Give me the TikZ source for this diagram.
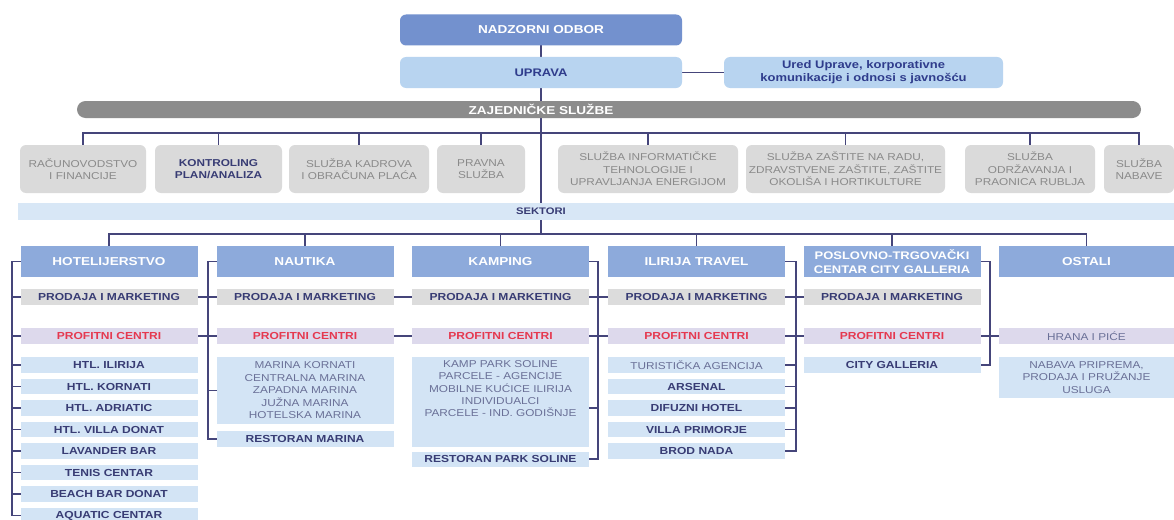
\documentclass[tikz,border=0pt]{standalone}
\usepackage{fontspec}
\newfontfamily\wf[FakeStretch=1.18]{Liberation Sans}
\usetikzlibrary{backgrounds}
\definecolor{nadC}{HTML}{7391CE}
\definecolor{secC}{HTML}{8DAADB}
\definecolor{uprC}{HTML}{B8D4F0}
\definecolor{uprT}{HTML}{2F3C8C}
\definecolor{barC}{HTML}{8C8C8C}
\definecolor{svcC}{HTML}{DADADA}
\definecolor{svcT}{HTML}{8A8A8A}
\definecolor{sekC}{HTML}{D8E7F6}
\definecolor{pmC}{HTML}{DCDCDC}
\definecolor{pcC}{HTML}{DDD9EC}
\definecolor{redT}{HTML}{E53950}
\definecolor{itemC}{HTML}{D3E4F5}
\definecolor{navy}{HTML}{383C74}
\definecolor{softT}{HTML}{6A7097}
\definecolor{lineC}{HTML}{45457A}
\begin{document}
\begin{tikzpicture}[x=1pt,y=-1pt,
  conn/.style={draw=lineC, line width=1.9pt},
  base/.style={inner sep=0pt, outer sep=0pt, align=center},
  nadbox/.style={base, fill=nadC, rounded corners=6pt, minimum width=282pt, minimum height=31pt, text=white, font=\wf\bfseries\fontsize{11.5}{13}\selectfont},
  uprbox/.style={base, fill=uprC, rounded corners=6pt, minimum width=282pt, minimum height=31pt, text=uprT, font=\wf\bfseries\fontsize{11}{13}\selectfont},
  uredbox/.style={uprbox, minimum width=279pt, font=\wf\bfseries\fontsize{11}{12.8}\selectfont},
  zajbar/.style={base, fill=barC, rounded corners=8.5pt, minimum height=17pt},
  zajtext/.style={base, text=white, font=\wf\bfseries\fontsize{11.5}{13}\selectfont},
  sekbar/.style={base, fill=sekC, minimum height=17pt},
  sektext/.style={base, text=navy, font=\wf\bfseries\fontsize{9.5}{11}\selectfont},
  svc/.style={base, fill=svcC, rounded corners=6pt, minimum height=48pt, text=svcT, font=\wf\fontsize{10}{12.5}\selectfont},
  svcbold/.style={svc, text=navy, font=\wf\bfseries\fontsize{10}{12.5}\selectfont},
  sechead/.style={base, fill=secC, minimum width=177pt, minimum height=31pt, text=white, font=\wf\bfseries\fontsize{11.5}{13.5}\selectfont},
  pmrow/.style={base, fill=pmC, minimum width=177pt, minimum height=16pt, text=navy, font=\wf\bfseries\fontsize{10.2}{12}\selectfont},
  pcrow/.style={pmrow, fill=pcC, text=redT},
  itemrow/.style={pmrow, fill=itemC, minimum height=15.5pt},
  softrow/.style={itemrow, text=softT, font=\wf\fontsize{10}{12.5}\selectfont},
  softtext/.style={base, text=softT, font=\wf\fontsize{10}{12.3}\selectfont}
]
\useasboundingbox (0,0) rectangle (1174,519);

% top
\node[nadbox] (nad) at (541,30) {NADZORNI ODBOR};
\node[uprbox] (upr) at (541,72.5) {UPRAVA};
\node[uredbox] (ured) at (863.5,72.5) {Ured Uprave, korporativne\\komunikacije i odnosi s javnošću};
\node[zajbar, minimum width=1064pt] (zaj) at (609,109.5) {};
\node[zajtext] (zajt) at (541,109.5) {ZAJEDNIČKE SLUŽBE};

% services
\node[svc, minimum width=126pt] (s1) at (83,169) {RAČUNOVODSTVO\\I FINANCIJE};
\node[svcbold, minimum width=127pt] (s2) at (218.5,169) {KONTROLING\\PLAN/ANALIZA};
\node[svc, minimum width=140pt] (s3) at (359,169) {SLUŽBA KADROVA\\I OBRAČUNA PLAĆA};
\node[svc, minimum width=88pt] (s4) at (481,169) {PRAVNA\\SLUŽBA};
\node[svc, minimum width=180pt] (s5) at (648,169) {SLUŽBA INFORMATIČKE\\TEHNOLOGIJE I\\UPRAVLJANJA ENERGIJOM};
\node[svc, minimum width=199pt] (s6) at (845.5,169) {SLUŽBA ZAŠTITE NA RADU,\\ZDRAVSTVENE ZAŠTITE, ZAŠTITE\\OKOLIŠA I HORTIKULTURE};
\node[svc, minimum width=130pt] (s7) at (1030,169) {SLUŽBA\\ODRŽAVANJA I\\PRAONICA RUBLJA};
\node[svc, minimum width=70pt] (s8) at (1139,169) {SLUŽBA\\NABAVE};

% sektori
\node[sekbar, minimum width=1156pt] (sek) at (596,211.5) {};
\node[sektext] (sekt) at (541,211.5) {SEKTORI};

% sector headers
\node[sechead] (hot) at (109,261.5) {HOTELIJERSTVO};
\node[sechead] (nau) at (305,261.5) {NAUTIKA};
\node[sechead] (kam) at (500.5,261.5) {KAMPING};
\node[sechead] (ili) at (696.5,261.5) {ILIRIJA TRAVEL};
\node[sechead, font=\wf\bfseries\fontsize{11}{13.5}\selectfont] (pos) at (892,261.5) {POSLOVNO-TRGOVAČKI\\CENTAR CITY GALLERIA};
\node[sechead, minimum width=175pt] (ost) at (1086.5,261.5) {OSTALI};

% prodaja / profitni
\node[pmrow] (hpm) at (109,297) {PRODAJA I MARKETING};
\node[pmrow] (npm) at (305,297) {PRODAJA I MARKETING};
\node[pmrow] (kpm) at (500.5,297) {PRODAJA I MARKETING};
\node[pmrow] (ipm) at (696.5,297) {PRODAJA I MARKETING};
\node[pmrow] (ppm) at (892,297) {PRODAJA I MARKETING};
\node[pcrow] (hpc) at (109,336) {PROFITNI CENTRI};
\node[pcrow] (npc) at (305,336) {PROFITNI CENTRI};
\node[pcrow] (kpc) at (500.5,336) {PROFITNI CENTRI};
\node[pcrow] (ipc) at (696.5,336) {PROFITNI CENTRI};
\node[pcrow] (ppc) at (892,336) {PROFITNI CENTRI};
\node[pcrow, minimum width=175pt, text=softT, font=\wf\fontsize{10}{12}\selectfont] (ohr) at (1086.5,336) {HRANA I PIĆE};

% hotelijerstvo items
\node[itemrow] (h1) at (109,365) {HTL. ILIRIJA};
\node[itemrow] (h2) at (109,386.5) {HTL. KORNATI};
\node[itemrow] (h3) at (109,408) {HTL. ADRIATIC};
\node[itemrow] (h4) at (109,429.5) {HTL. VILLA DONAT};
\node[itemrow] (h5) at (109,451) {LAVANDER BAR};
\node[itemrow] (h6) at (109,472.5) {TENIS CENTAR};
\node[itemrow] (h7) at (109,494) {BEACH BAR DONAT};
\node[itemrow] (h8) at (109,515.5) {AQUATIC CENTAR};

% nautika items
\node[softrow, minimum height=67pt] (nmar) at (305,390.5) {MARINA KORNATI\\CENTRALNA MARINA\\ZAPADNA MARINA\\JUŽNA MARINA\\HOTELSKA MARINA};
\node[itemrow, minimum height=16pt] (nres) at (305,439) {RESTORAN MARINA};

% kamping items
\node[itemrow, minimum height=90pt] (kbox) at (500.5,402) {};
\node[softtext, anchor=north] (kboxt) at (500.5,360.5) {KAMP PARK SOLINE\\PARCELE - AGENCIJE\\MOBILNE KUĆICE  ILIRIJA\\INDIVIDUALCI\\PARCELE - IND. GODIŠNJE};
\node[itemrow, minimum height=15pt] (kres) at (500.5,459) {RESTORAN PARK SOLINE};

% ilirija travel items
\node[softrow] (i1) at (696.5,365) {TURISTIČKA AGENCIJA};
\node[itemrow] (i2) at (696.5,386.5) {ARSENAL};
\node[itemrow] (i3) at (696.5,408) {DIFUZNI HOTEL};
\node[itemrow] (i4) at (696.5,429.5) {VILLA PRIMORJE};
\node[itemrow] (i5) at (696.5,451) {BROD NADA};

% city galleria / ostali
\node[itemrow] (pcity) at (892,365) {CITY GALLERIA};
\node[softrow, minimum width=175pt, minimum height=41pt] (onab) at (1086.5,377.5) {NABAVA PRIPREMA,\\PRODAJA I PRUŽANJE\\USLUGA};

% helper coordinates
\coordinate (svl) at (541,133);
\coordinate (sl) at (541,234);
\coordinate (hb) at (12,0);
\coordinate (nb) at (208,0);
\coordinate (kb) at (598,0);
\coordinate (ib) at (796,0);
\coordinate (pb) at (990,0);

\begin{scope}[on background layer]
  \fill[white] (0,0) rectangle (1174,519);
  % main stem
  \draw[conn] (nad.south) -- (nad.south |- sl);
  \draw[conn] (upr.east) -- (ured.west);
  % services line
  \draw[conn] (s1.north) -- (s1.north |- svl) -- (s8.north |- svl) -- (s8.north);
  \foreach \n in {s2,s3,s4,s5,s6,s7} \draw[conn] (\n.north) -- (\n.north |- svl);
  % sectors line
  \draw[conn] (hot.north) -- (hot.north |- sl) -- (ost.north |- sl) -- (ost.north);
  \foreach \n in {nau,kam,ili,pos} \draw[conn] (\n.north) -- (\n.north |- sl);
  % hotelijerstvo bracket
  \draw[conn] (hot.west) -- (hot.west -| hb) -- (h8.west -| hb) -- (h8.west);
  \foreach \n in {hpm,hpc,h1,h2,h3,h4,h5,h6,h7} \draw[conn] (\n.west) -- (\n.west -| hb);
  % nautika bracket
  \draw[conn] (nau.west) -- (nau.west -| nb) -- (nres.west -| nb) -- (nres.west);
  \draw[conn] (hpm.east) -- (npm.west);
  \draw[conn] (hpc.east) -- (npc.west);
  \draw[conn] (nmar.west) -- (nmar.west -| nb);
  % nautika - kamping
  \draw[conn] (npm.east) -- (kpm.west);
  \draw[conn] (npc.east) -- (kpc.west);
  % kamping bracket
  \draw[conn] (kam.east) -- (kam.east -| kb) -- (kres.east -| kb) -- (kres.east);
  \draw[conn] (kpm.east) -- (ipm.west);
  \draw[conn] (kpc.east) -- (ipc.west);
  \draw[conn] ([yshift=-6pt]kbox.east) -- ([yshift=-6pt]kbox.east -| kb);
  % ilirija bracket
  \draw[conn] (ili.east) -- (ili.east -| ib) -- (i5.east -| ib) -- (i5.east);
  \draw[conn] (ipm.east) -- (ppm.west);
  \draw[conn] (ipc.east) -- (ppc.west);
  \foreach \n in {i1,i2,i3,i4} \draw[conn] (\n.east) -- (\n.east -| ib);
  % city galleria bracket
  \draw[conn] (pos.east) -- (pos.east -| pb) -- (pcity.east -| pb) -- (pcity.east);
  \draw[conn] (ppc.east) -- (ohr.west);
\end{scope}
\end{tikzpicture}
\end{document}
